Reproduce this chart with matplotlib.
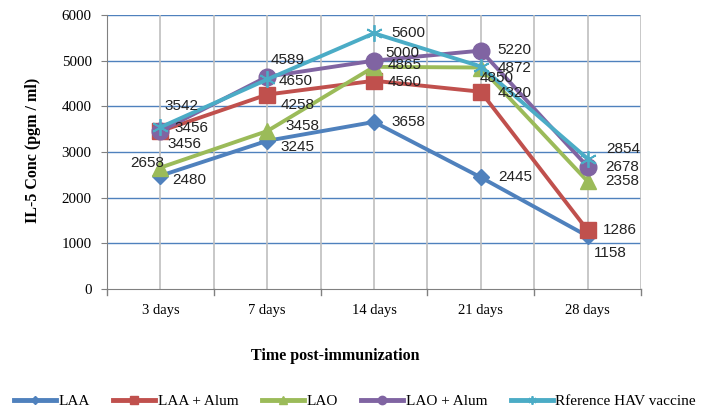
import matplotlib
matplotlib.use("Agg")
import matplotlib.pyplot as plt
import numpy as np

categories = ["3 days", "7 days", "14 days", "21 days", "28 days"]
series_names = ["LAA", "LAA + Alum", "LAO", "LAO + Alum", "Rference HAV vaccine"]
laa = [2480, 3245, 3658, 2445, 1158]
laa_alum = [3456, 4258, 4560, 4320, 1286]
lao = [2658, 3458, 4865, 4850, 2358]
lao_alum = [3456, 4650, 5000, 5220, 2678]
ref_hav = [3542, 4589, 5600, 4872, 2854]
y_ticks = [0, 1000, 2000, 3000, 4000, 5000, 6000]

series = [laa, laa_alum, lao, lao_alum, ref_hav]
colors = ["#4F81BD", "#C0504D", "#9BBB59", "#8064A2", "#4BACC6"]
markers = ["D", "s", "^", "o", (6, 2, 0)]
msizes = [8, 12, 12, 12, 12]

# label offsets in pixels (dx right, dy down) per series per category
px_off = [
    [(29, 4), (30, 6), (34, 0), (34, 0), (23, 17)],
    [(24, 13), (30, 10), (31, 1), (34, 1), (32, 0)],
    [(-13, -5), (35, -5), (31, -2), (16, 10), (35, 0)],
    [(31, -3), (28, 4), (28, -8), (34, -1), (35, 0)],
    [(21, -21), (20, -19), (34, 0), (34, 1), (36, -10)],
]

dpi = 100
fig = plt.figure(figsize=(7.05, 4.12), dpi=dpi)
ax = fig.add_axes([107/705, 1-289/412, (641-107)/705, (289-15)/412])

x = np.arange(len(categories))
for i, (vals, name) in enumerate(zip(series, series_names)):
    ax.plot(x, vals, color=colors[i], lw=2.8, marker=markers[i], ms=msizes[i],
            mec=colors[i], mfc=colors[i], mew=1.3 if i == 4 else 1, label=name, zorder=3 + i * 0.1)
    for j, v in enumerate(vals):
        dx, dy = px_off[i][j]
        ax.annotate(str(v), (x[j], v), xytext=(dx * 0.72, -dy * 0.72), textcoords="offset points",
                    ha="center", va="center", fontsize=11, family="Liberation Sans",
                    color="#222222", zorder=6)

ax.set_xlim(-0.5, len(categories) - 0.5)
ax.set_ylim(0, 6000)
ax.set_yticks(y_ticks)
ax.set_yticklabels([str(t) for t in y_ticks], family="Liberation Serif", fontsize=10.8)
ax.set_xticks(x)
ax.set_xticklabels(categories, family="Liberation Serif", fontsize=10.5)
ax.tick_params(axis="x", length=0, pad=11)
ax.tick_params(axis="y", length=4, color="#808080", pad=7)

for v in y_ticks[1:]:
    ax.axhline(v, color="#4F81BD", lw=1.0, zorder=1)
for k in np.arange(-0.5, len(categories), 0.5):
    ax.axvline(k, color="#BFBFBF", lw=1.2, zorder=1)
# boundary tick marks below axis
for k in np.arange(-0.5, len(categories), 1.0):
    ax.plot([k, k], [0, -1 * 6000 * 6 / 274], color="#808080", lw=1, clip_on=False)

for s in ["top", "right"]:
    ax.spines[s].set_visible(False)
ax.spines["left"].set_color("#808080")
ax.spines["bottom"].set_color("#808080")
ax.spines["left"].set_zorder(2)

fig.text(33/705, 1-150/412, "IL-5 Conc (pgm / ml)", rotation=90, ha="center", va="center",
         family="Liberation Serif", fontweight="bold", fontsize=11.5)
fig.text(335/705, 1-356/412, "Time post-immunization", ha="center", va="center",
         family="Liberation Serif", fontweight="bold", fontsize=11.5)

leg = fig.legend(loc="center", bbox_to_anchor=(355/705, 1-401/412), ncol=5, frameon=False,
                 prop={"family": "Liberation Serif", "size": 11}, handlelength=2.75,
                 columnspacing=1.55, handletextpad=0.15, markerscale=0.5, borderpad=0)
for h in leg.legend_handles:
    h.set_linewidth(3.5)

fig.savefig("out.png", dpi=dpi)
